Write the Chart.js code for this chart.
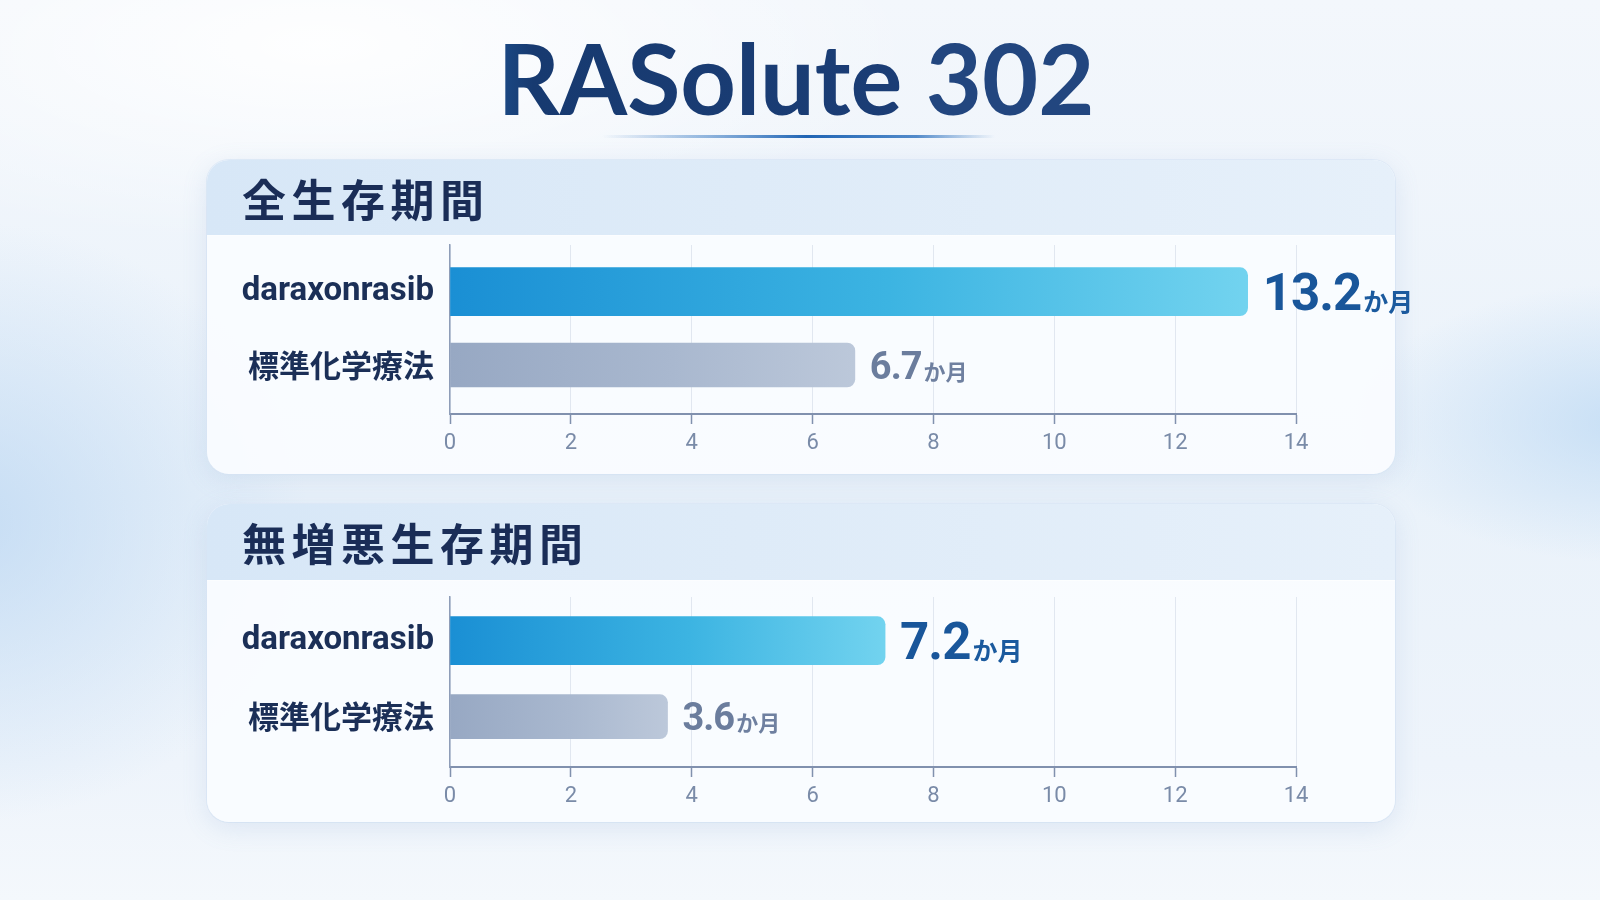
<!DOCTYPE html>
<html lang="ja">
<head>
<meta charset="utf-8">
<script src="https://cdn.jsdelivr.net/npm/chart.js@4.4.1/dist/chart.umd.min.js"></script>
<style>
  html, body { margin: 0; padding: 0; }
  body {
    width: 1600px; height: 900px; overflow: hidden; position: relative;
    background:
      radial-gradient(ellipse 340px 300px at -2% 58%, rgba(186,214,242,0.75), rgba(186,214,242,0) 100%),
      radial-gradient(ellipse 280px 140px at 102% 47%, rgba(190,218,244,0.8), rgba(190,218,244,0) 100%),
      radial-gradient(ellipse 600px 200px at 20% 5%, rgba(255,255,255,0.9), rgba(255,255,255,0) 100%),
      linear-gradient(180deg, #f3f7fc 0%, #eaf2fa 55%, #eef4fb 85%, #f4f8fc 100%);
    font-family: "Noto Sans CJK JP", "Noto Sans", sans-serif;
  }
  .panel {
    position: absolute; left: 207px; width: 1188px;
    border-radius: 22px; overflow: hidden;
    background: rgba(250,252,255,0.93);
    box-shadow: 0 6px 26px rgba(110,150,200,0.16), 0 0 0 1px rgba(225,236,248,0.9);
  }
  .panel .head {
    position: absolute; left: 0; top: 0; right: 0;
    background: linear-gradient(90deg, #d7e7f7 0%, #deebf8 45%, #e6f0fa 100%);
    border-bottom: 1px solid rgba(255,255,255,0.9);
  }
  canvas { position: absolute; left: 0; }
  svg.overlay { position: absolute; left: 0; top: 0; pointer-events: none; }
</style>
</head>
<body>
<div class="panel" style="top:160px;height:314px;"><div class="head" style="height:75px;"></div></div>
<div class="panel" style="top:504px;height:318px;"><div class="head" style="height:76px;"></div></div>

<canvas id="osChart" width="1600" height="269" style="top:205px;"></canvas>
<canvas id="pfsChart" width="1600" height="265" style="top:557px;"></canvas>

<svg class="overlay" width="1600" height="900" xmlns="http://www.w3.org/2000/svg">
  <defs>
    <linearGradient id="titleGrad" x1="0" y1="0" x2="1" y2="0">
      <stop offset="0" stop-color="#1b4a86"/>
      <stop offset="0.06" stop-color="#173a70"/>
      <stop offset="1" stop-color="#1d3f78"/>
    </linearGradient>
    <linearGradient id="ruleGrad" x1="0" y1="0" x2="1" y2="0">
      <stop offset="0" stop-color="#4a86c8" stop-opacity="0"/>
      <stop offset="0.25" stop-color="#4a86c8" stop-opacity="0.55"/>
      <stop offset="0.52" stop-color="#1f64b4" stop-opacity="1"/>
      <stop offset="0.8" stop-color="#2a6fbd" stop-opacity="0.8"/>
      <stop offset="1" stop-color="#4a86c8" stop-opacity="0"/>
    </linearGradient>
  </defs>
  <text id="mainTitle" x="796" y="115" text-anchor="middle" font-family="Lato, 'Open Sans', sans-serif" font-weight="700" font-size="97" fill="url(#titleGrad)"></text>
  <rect x="602" y="135" width="393" height="3" rx="1.5" fill="url(#ruleGrad)"/>
  <text id="head0" x="242" y="217" font-family="'Noto Sans CJK JP', sans-serif" font-weight="700" font-size="44" letter-spacing="5.5" fill="#1a2d57"></text>
  <text id="head1" x="242" y="561" font-family="'Noto Sans CJK JP', sans-serif" font-weight="700" font-size="44" letter-spacing="5.5" fill="#1a2d57"></text>
</svg>

<script>
// ---- data ----
const chartTitle = 'RASolute 302';
const panelTitles = ['全生存期間', '無増悪生存期間'];
const categories = ['daraxonrasib', '標準化学療法'];
const osMonths = [13.2, 6.7];
const pfsMonths = [7.2, 3.6];
const xTickValues = [0, 2, 4, 6, 8, 10, 12, 14];
const unitLabel = 'か月';

// ---- text ----
const titleEl = document.getElementById('mainTitle');
const parts = chartTitle.split(' ');
const t1 = document.createElementNS('http://www.w3.org/2000/svg', 'tspan');
t1.textContent = parts[0] + ' ';
const t2 = document.createElementNS('http://www.w3.org/2000/svg', 'tspan');
t2.textContent = parts.slice(1).join(' ');
t2.setAttribute('fill', '#22467f');
titleEl.appendChild(t1); titleEl.appendChild(t2);
document.getElementById('head0').textContent = panelTitles[0];
document.getElementById('head1').textContent = panelTitles[1];

// ---- styles ----
const barStyles = [
  { stops: ['#1a8fd4', '#3cb4e2', '#72d3ef'], thickness: 48,
    num: { size: 51, color: '#19569a' }, unit: { size: 25, color: '#1b5a9e' } },
  { stops: ['#97a8c3', '#a9b8cf', '#bcc8da'], thickness: 44,
    num: { size: 38, color: '#6b7d9d' }, unit: { size: 22, color: '#6f80a0' } }
];

const valueLabelPlugin = {
  id: 'valueLabels',
  afterDatasetsDraw(chart) {
    const ctx = chart.ctx;
    chart.data.datasets.forEach((ds, i) => {
      const meta = chart.getDatasetMeta(i);
      const st = barStyles[i];
      meta.data.forEach((bar, j) => {
        const v = ds.data[j];
        if (v === null || v === undefined) return;
        const x = bar.x + 15;
        const baseline = bar.y + st.num.size * 0.36;
        ctx.save();
        ctx.textAlign = 'left';
        ctx.textBaseline = 'alphabetic';
        ctx.letterSpacing = '-1px';
        ctx.font = `700 ${st.num.size}px Roboto, "Open Sans", sans-serif`;
        ctx.fillStyle = st.num.color;
        const txt = v.toFixed(1);
        ctx.fillText(txt, x, baseline);
        const w = ctx.measureText(txt).width;
        ctx.letterSpacing = '0px';
        ctx.font = `700 ${st.unit.size}px "Noto Sans CJK JP", sans-serif`;
        ctx.fillStyle = st.unit.color;
        ctx.fillText(unitLabel, x + w + 2, baseline + 1);
        ctx.restore();
      });
    });
  }
};

// band layout of the category axis (start offset and span, in category units)
function makeChart(id, values, axisHeight, bandStart, bandSpan) {
  const datasets = categories.map((c, i) => ({
    label: c,
    data: values.map((v, j) => (j === i ? v : null)),
    grouped: false,
    skipNull: true,
    barThickness: barStyles[i].thickness,
    borderRadius: 8,
    borderSkipped: 'start',
    backgroundColor: (ctx) => {
      const chart = ctx.chart;
      if (!chart.chartArea || ctx.raw == null) return barStyles[i].stops[0];
      const xs = chart.scales.x;
      const x0 = xs.getPixelForValue(0);
      const x1 = xs.getPixelForValue(ctx.raw);
      const g = chart.ctx.createLinearGradient(x0, 0, x1, 0);
      const s = barStyles[i].stops;
      g.addColorStop(0, s[0]); g.addColorStop(0.55, s[1]); g.addColorStop(1, s[2]);
      return g;
    }
  }));
  return new Chart(document.getElementById(id), {
    type: 'bar',
    data: { labels: categories, datasets },
    options: {
      indexAxis: 'y',
      responsive: false,
      animation: false,
      devicePixelRatio: 1,
      layout: { padding: { top: 40, right: 304, left: 0, bottom: 0 } },
      plugins: { legend: { display: false }, tooltip: { enabled: false } },
      scales: {
        x: {
          type: 'linear', min: 0, max: 14,
          afterBuildTicks: (scale) => { scale.ticks = xTickValues.map(v => ({ value: v })); },
          afterFit: (scale) => { scale.height = axisHeight; },
          grid: { color: '#e1e7f0', lineWidth: 1, tickLength: 10, tickColor: '#8191ae', tickWidth: 1.5 },
          border: { display: true, color: '#8191ae', width: 2 },
          ticks: { color: '#7a8ba8', padding: 6, font: { family: 'Roboto, "Open Sans", sans-serif', size: 22, weight: '400' } }
        },
        y: {
          type: 'category', offset: true,
          afterBuildTicks: (scale) => { scale._startValue = bandStart; scale._valueRange = bandSpan; },
          afterFit: (scale) => { scale.width = 450; },
          grid: { display: false },
          border: { display: true, color: '#8e9db8', width: 1.5 },
          ticks: {
            padding: 8,
            color: '#1b2f57',
            font: (c) => c.index === 0
              ? { family: 'Roboto, "Open Sans", sans-serif', size: 33, weight: '700' }
              : { family: '"Noto Sans CJK JP", sans-serif', size: 31, weight: '700' }
          }
        }
      }
    },
    plugins: [valueLabelPlugin]
  });
}

makeChart('osChart', osMonths, 60, -0.636, 2.304);
makeChart('pfsChart', pfsMonths, 55, -0.575, 2.237);
</script>
</body>
</html>
